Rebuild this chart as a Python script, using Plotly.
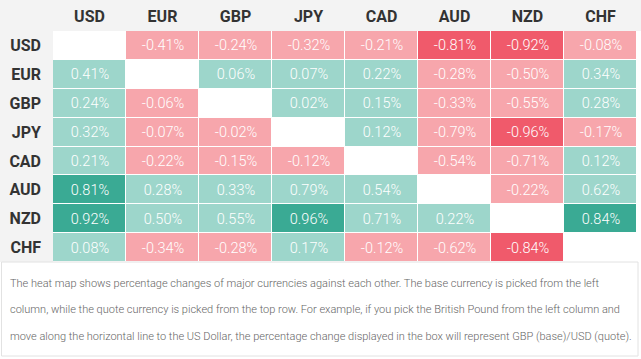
import plotly.graph_objects as go

currencies = ["USD", "EUR", "GBP", "JPY", "CAD", "AUD", "NZD", "CHF"]

usd = [None, -0.41, -0.24, -0.32, -0.21, -0.81, -0.92, -0.08]
eur = [0.41, None, 0.06, 0.07, 0.22, -0.28, -0.50, 0.34]
gbp = [0.24, -0.06, None, 0.02, 0.15, -0.33, -0.55, 0.28]
jpy = [0.32, -0.07, -0.02, None, 0.12, -0.79, -0.96, -0.17]
cad = [0.21, -0.22, -0.15, -0.12, None, -0.54, -0.71, 0.12]
aud = [0.81, 0.28, 0.33, 0.79, 0.54, None, -0.22, 0.62]
nzd = [0.92, 0.50, 0.55, 0.96, 0.71, 0.22, None, 0.84]
chf = [0.08, -0.34, -0.28, 0.17, -0.12, -0.62, -0.84, None]

rows = [usd, eur, gbp, jpy, cad, aud, nzd, chf]

caption_lines = [
    "The heat map shows percentage changes of major currencies against each other. The base currency is picked from the left",
    "column, while the quote currency is picked from the top row. For example, if you pick the British Pound from the left column and",
    "move along the horizontal line to the US Dollar, the percentage change displayed in the box will represent GBP (base)/USD (quote).",
]

text = [["" if v is None else f"{v:.2f}%" for v in r] for r in rows]

DR, LR, LT, DT = "#f05a6b", "#f7a6ac", "#9dd6cb", "#3aaa94"
colorscale = [
    [0.0, DR], [0.1, DR],
    [0.1, LR], [0.5, LR],
    [0.5, LT], [0.9, LT],
    [0.9, DT], [1.0, DT],
]

fig = go.Figure(go.Heatmap(
    z=rows, x=currencies, y=currencies,
    text=text, texttemplate="%{text}",
    textfont=dict(family="Roboto", size=14.5, color="white", weight=300),
    colorscale=colorscale, zmin=-1, zmax=1, showscale=False,
    xgap=1, ygap=1, hoverinfo="skip",
))

W, H = 641, 359
L, R, T, B = 53, 4, 31, 97
PW, PH = W - L - R, H - T - B

shapes = [
    dict(type="rect", xref="paper", yref="paper", x0=-L / PW, x1=1 + R / PW,
         y0=1, y1=1 + T / PH, fillcolor="#f3f3f3", line_width=0, layer="below"),
    dict(type="rect", xref="paper", yref="paper", x0=-L / PW, x1=0,
         y0=0, y1=1, fillcolor="#f3f3f3", line_width=0, layer="below"),
    dict(type="rect", xref="paper", yref="paper",
         x0=(1.5 - L) / PW, x1=1 + (R - 3) / PW,
         y0=-(356 - (H - B)) / PH, y1=0,
         fillcolor="rgba(0,0,0,0)", line=dict(color="#e2e2e2", width=1)),
]

annotations = []
for i, line in enumerate(caption_lines):
    ypix = 283 + i * 26.5
    annotations.append(dict(
        xref="paper", yref="paper", x=(8 - L) / PW,
        y=-(ypix - (H - B)) / PH, xanchor="left", yanchor="middle",
        text=line, showarrow=False,
        font=dict(family="Roboto", size=11, color="#666666", weight=300),
    ))

fig.update_layout(
    width=W, height=H,
    margin=dict(l=L, r=R, t=T, b=B, pad=0),
    paper_bgcolor="white", plot_bgcolor="white",
    xaxis=dict(side="top", showgrid=False, zeroline=False, ticks="", showline=False,
               tickfont=dict(family="Roboto", size=16, color="#333333", weight="bold"),
               ticklabelstandoff=5),
    yaxis=dict(autorange="reversed", showgrid=False, zeroline=False, ticks="", showline=False,
               tickfont=dict(family="Roboto", size=16, color="#333333", weight="bold"),
               ticklabelstandoff=11),
    shapes=shapes, annotations=annotations,
)

fig.write_html(
    "out.html",
    config={"displayModeBar": False},
    post_script="document.body.style.margin='0';document.body.style.overflow='hidden';",
)
